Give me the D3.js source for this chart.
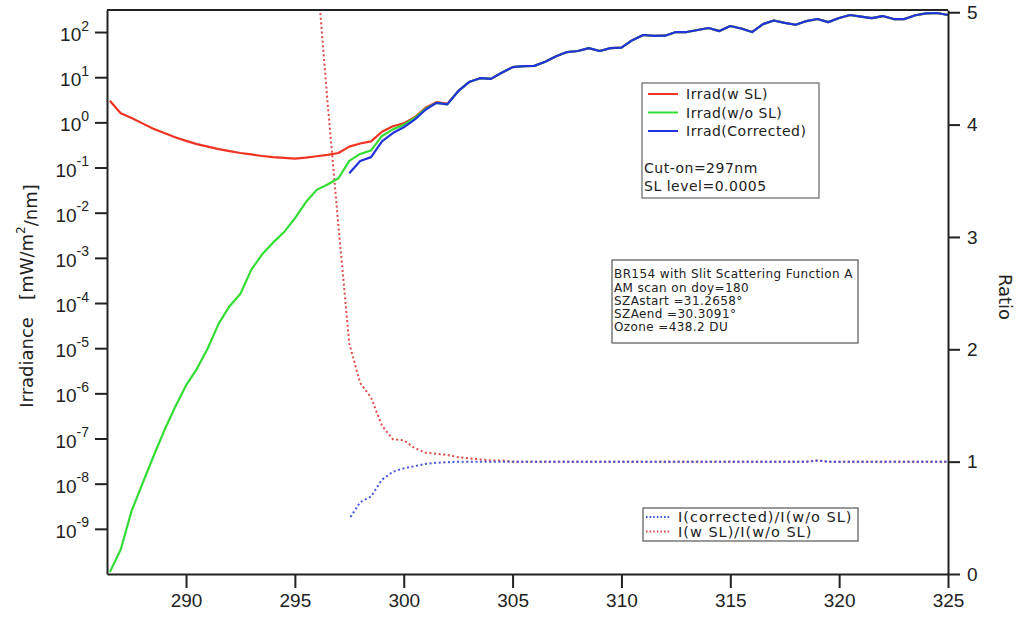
<!DOCTYPE html>
<html>
<head>
<meta charset="utf-8">
<script src="https://cdn.jsdelivr.net/npm/d3@7"></script>
<style>
  body { margin: 0; background: #fff; }
  svg { font-family: "DejaVu Sans", sans-serif; }
  .axis path, .axis line { stroke: #222; stroke-width: 2px; }
  .axis text { fill: #222; }
</style>
</head>
<body>
<svg id="chart" width="1021" height="620"></svg>
<script>
// wavelength grid (nm)
const wavelength = [
  286.5, 287.0, 287.5, 288.0, 288.5, 289.0, 289.5, 290.0, 290.5, 291.0,
  291.5, 292.0, 292.5, 293.0, 293.5, 294.0, 294.5, 295.0, 295.5, 296.0,
  296.5, 297.0, 297.5, 298.0, 298.5, 299.0, 299.5, 300.0, 300.5, 301.0,
  301.5, 302.0, 302.5, 303.0, 303.5, 304.0, 304.5, 305.0, 305.5, 306.0,
  306.5, 307.0, 307.5, 308.0, 308.5, 309.0, 309.5, 310.0, 310.5, 311.0,
  311.5, 312.0, 312.5, 313.0, 313.5, 314.0, 314.5, 315.0, 315.5, 316.0,
  316.5, 317.0, 317.5, 318.0, 318.5, 319.0, 319.5, 320.0, 320.5, 321.0,
  321.5, 322.0, 322.5, 323.0, 323.5, 324.0, 324.5, 325.0
];

// irradiance with stray light
const irradWithSL = [
  3.0, 1.6, 1.25, 0.95, 0.72, 0.58, 0.47, 0.39, 0.33, 0.29,
  0.255, 0.23, 0.21, 0.195, 0.18, 0.17, 0.163, 0.158, 0.165, 0.178,
  0.19, 0.21, 0.29, 0.34, 0.38, 0.62, 0.82, 0.95, 1.3, 2.1,
  2.8, 2.6, 4.9, 7.8, 9.5, 9.2, 12.5, 16.7, 17.6, 17.8,
  22, 29, 36, 38, 44, 38, 44, 45, 66, 86,
  82, 83, 100, 100, 111, 123, 105, 136, 120, 100,
  150, 180, 160, 145, 175, 194, 166, 205, 238, 220,
  204, 226, 194, 194, 235, 258, 264, 238
];

// irradiance without stray light
const irradNoSL = [
  1.1e-10, 3.5e-10, 2.5e-9, 1.0e-8, 4e-8, 1.5e-7, 5e-7, 1.5e-6, 3.5e-6, 1.0e-5,
  3.5e-5, 8.5e-5, 1.6e-4, 5.5e-4, 1.2e-3, 2.2e-3, 3.7e-3, 7.5e-3, 0.017, 0.032,
  0.042, 0.058, 0.14, 0.2, 0.24, 0.5, 0.7, 0.88, 1.25, 2.0,
  2.7, 2.5, 4.9, 7.8, 9.5, 9.2, 12.5, 16.7, 17.6, 17.8,
  22, 29, 36, 38, 44, 38, 44, 45, 66, 86,
  82, 83, 100, 100, 111, 123, 105, 136, 120, 100,
  150, 180, 160, 145, 175, 194, 166, 205, 238, 220,
  204, 226, 194, 194, 235, 258, 264, 238
];

// corrected irradiance (starts at cut-on)
const irradCorrected = [
  null, null, null, null, null, null, null, null, null, null,
  null, null, null, null, null, null, null, null, null, null,
  null, null, 0.075, 0.14, 0.17, 0.38, 0.58, 0.78, 1.15, 1.9,
  2.7, 2.5, 4.9, 7.8, 9.5, 9.2, 12.5, 16.7, 17.6, 17.8,
  22, 29, 36, 38, 44, 38, 44, 45, 66, 86,
  82, 83, 100, 100, 111, 123, 105, 136, 120, 100,
  150, 180, 160, 145, 175, 194, 166, 205, 238, 220,
  204, 226, 194, 194, 235, 258, 264, 238
];

// ratio I(w SL)/I(w/o SL)
const ratioWithSL = [
  null, null, null, null, null, null, null, null, null, null,
  null, null, null, null, null, null, null, null, null, 5.4,
  4.2, 3.1, 2.05, 1.70, 1.57, 1.32, 1.20, 1.19, 1.12, 1.08,
  1.07, 1.06, 1.04, 1.03, 1.02, 1.01, 1.01, 1.0, 1.0, 1.0,
  1.0, 1.0, 1.0, 1.0, 1.0, 1.0, 1.0, 1.0, 1.0, 1.0,
  1.0, 1.0, 1.0, 1.0, 1.0, 1.0, 1.0, 1.0, 1.0, 1.0,
  1.0, 1.0, 1.0, 1.0, 1.0, 1.01, 1.0, 1.0, 1.0, 1.0,
  1.0, 1.0, 1.0, 1.0, 1.0, 1.0, 1.0, 1.0
];

// ratio I(corrected)/I(w/o SL)
const ratioCorrected = [
  null, null, null, null, null, null, null, null, null, null,
  null, null, null, null, null, null, null, null, null, null,
  null, null, 0.49, 0.64, 0.69, 0.84, 0.91, 0.94, 0.96, 0.98,
  0.99, 0.995, 1.0, 1.0, 1.0, 1.0, 1.0, 1.0, 1.0, 1.0,
  1.0, 1.0, 1.0, 1.0, 1.0, 1.0, 1.0, 1.0, 1.0, 1.0,
  1.0, 1.0, 1.0, 1.0, 1.0, 1.0, 1.0, 1.0, 1.0, 1.0,
  1.0, 1.0, 1.0, 1.0, 1.0, 1.01, 1.0, 1.0, 1.0, 1.0,
  1.0, 1.0, 1.0, 1.0, 1.0, 1.0, 1.0, 1.0
];

const xTicks = [290, 295, 300, 305, 310, 315, 320, 325];
const yExponents = [-9, -8, -7, -6, -5, -4, -3, -2, -1, 0, 1, 2];
const ratioTicks = [0, 1, 2, 3, 4, 5];

const infoLines = [
  'BR154 with Slit Scattering Function A',
  'AM scan on doy=180',
  'SZAstart =31.2658°',
  'SZAend =30.3091°',
  'Ozone =438.2 DU'
];

const svg = d3.select('#chart');
const plotLeft = 107, plotRight = 948, plotTop = 10, plotBottom = 574;

const x = d3.scaleLinear().domain([286.37, 325]).range([plotLeft, plotRight]);
const y = d3.scaleLog().domain([1e-10, 307.6]).range([plotBottom, plotTop]);
const yRatio = d3.scaleLinear().domain([0, 5.02]).range([plotBottom, plotTop]);

svg.append('clipPath').attr('id', 'plot-clip')
  .append('rect')
  .attr('x', plotLeft).attr('y', plotTop)
  .attr('width', plotRight - plotLeft).attr('height', plotBottom - plotTop);

const plot = svg.append('g').attr('clip-path', 'url(#plot-clip)');

function series(values) {
  return wavelength.map((w, i) => ({ w: w, v: values[i] }));
}

const irradLine = d3.line()
  .defined(d => d.v != null)
  .x(d => x(d.w))
  .y(d => y(d.v));

const ratioLine = d3.line()
  .defined(d => d.v != null)
  .x(d => x(d.w))
  .y(d => yRatio(d.v));

const red = '#ee3322', green = '#33dd33', blue = '#2233dd';

// ratio curves (dotted)
plot.append('path').datum(series(ratioWithSL))
  .attr('d', ratioLine)
  .attr('fill', 'none')
  .attr('stroke', '#e04a4a')
  .attr('stroke-width', 2)
  .attr('stroke-dasharray', '2,2.6');

plot.append('path').datum(series(ratioCorrected))
  .attr('d', ratioLine)
  .attr('fill', 'none')
  .attr('stroke', '#4455e0')
  .attr('stroke-width', 2)
  .attr('stroke-dasharray', '2,2.6')
  .attr('stroke-dashoffset', 2.3);

// irradiance curves
[[irradWithSL, red], [irradNoSL, green], [irradCorrected, blue]].forEach(([vals, col]) => {
  plot.append('path').datum(series(vals))
    .attr('d', irradLine)
    .attr('fill', 'none')
    .attr('stroke', col)
    .attr('stroke-width', 2.2)
    .attr('stroke-linejoin', 'round');
});

// frame top
svg.append('line')
  .attr('x1', plotLeft).attr('x2', plotRight)
  .attr('y1', plotTop).attr('y2', plotTop)
  .attr('stroke', '#222').attr('stroke-width', 2);

// bottom axis
const xAxis = svg.append('g').attr('class', 'axis')
  .attr('transform', `translate(0,${plotBottom})`)
  .call(d3.axisBottom(x).tickValues(xTicks).tickSize(14).tickSizeOuter(0).tickPadding(6));
xAxis.selectAll('text').attr('font-size', 19);

// left axis, powers of ten with superscripts
const yAxis = svg.append('g').attr('class', 'axis')
  .attr('transform', `translate(${plotLeft},0)`)
  .call(d3.axisLeft(y).tickValues(yExponents.map(e => Math.pow(10, e)))
    .tickSize(12).tickSizeOuter(0).tickPadding(6).tickFormat(''));
yAxis.selectAll('.tick text').each(function(d) {
  const t = d3.select(this).attr('font-size', 19).attr('dy', '0.45em');
  const e = Math.round(Math.log10(d));
  t.append('tspan').text('10');
  t.append('tspan').attr('font-size', 14).attr('dy', '-0.75em').text(e);
});

// right axis for ratios
const rAxis = svg.append('g').attr('class', 'axis')
  .attr('transform', `translate(${plotRight},0)`)
  .call(d3.axisRight(yRatio).tickValues(ratioTicks).tickFormat(d3.format('d'))
    .tickSize(12).tickSizeOuter(0).tickPadding(7));
rAxis.selectAll('text').attr('font-size', 19);

// axis titles
const yTitle = svg.append('text')
  .attr('transform', 'translate(33,296) rotate(-90)')
  .attr('text-anchor', 'middle')
  .attr('font-size', 18)
  .attr('fill', '#222')
  .style('white-space', 'pre');
yTitle.append('tspan').text('Irradiance   [mW/m');
yTitle.append('tspan').attr('font-size', 12).attr('dy', '-0.7em').text('2');
yTitle.append('tspan').attr('dy', '0.7em').text('/nm]');

svg.append('text')
  .attr('transform', 'translate(999,297) rotate(90)')
  .attr('text-anchor', 'middle')
  .attr('font-size', 18)
  .attr('fill', '#222')
  .text('Ratio');

// legend for irradiance curves
const leg1 = svg.append('g').attr('font-size', 14).attr('letter-spacing', 0.5).attr('fill', '#222');
leg1.append('rect')
  .attr('x', 642).attr('y', 83).attr('width', 177).attr('height', 115)
  .attr('fill', '#fff').attr('stroke', '#666').attr('stroke-width', 1.2);
[['Irrad(w SL)', red], ['Irrad(w/o SL)', green], ['Irrad(Corrected)', blue]].forEach(([lbl, col], i) => {
  const yy = 94 + i * 18.5;
  leg1.append('line').attr('x1', 648).attr('x2', 678).attr('y1', yy).attr('y2', yy)
    .attr('stroke', col).attr('stroke-width', 2);
  leg1.append('text').attr('x', 686).attr('y', yy).attr('dy', '0.36em').text(lbl);
});
leg1.append('text').attr('x', 644).attr('y', 168).attr('dy', '0.36em').text('Cut-on=297nm');
leg1.append('text').attr('x', 644).attr('y', 186).attr('dy', '0.36em').text('SL level=0.0005');

// measurement info box
const info = svg.append('g').attr('font-size', 12).attr('letter-spacing', 0.4).attr('fill', '#222');
info.append('rect')
  .attr('x', 612).attr('y', 260).attr('width', 246).attr('height', 83)
  .attr('fill', '#fff').attr('stroke', '#555').attr('stroke-width', 1.2);
infoLines.forEach((s, i) => {
  info.append('text').attr('x', 614).attr('y', 274 + i * 13.2).attr('dy', '0.36em').text(s);
});

// legend for ratio curves
const leg2 = svg.append('g').attr('font-size', 14.5).attr('letter-spacing', 1).attr('fill', '#222');
leg2.append('rect')
  .attr('x', 643).attr('y', 508).attr('width', 215).attr('height', 33)
  .attr('fill', '#fff').attr('stroke', '#555').attr('stroke-width', 1.2);
[['I(corrected)/I(w/o SL)', '#4455e0'], ['I(w SL)/I(w/o SL)', '#e04a4a']].forEach(([lbl, col], i) => {
  const yy = 517 + i * 14.5;
  leg2.append('line').attr('x1', 646).attr('x2', 670).attr('y1', yy).attr('y2', yy)
    .attr('stroke', col).attr('stroke-width', 2).attr('stroke-dasharray', '1.6,2');
  leg2.append('text').attr('x', 678).attr('y', yy).attr('dy', '0.36em').text(lbl);
});
</script>
</body>
</html>
